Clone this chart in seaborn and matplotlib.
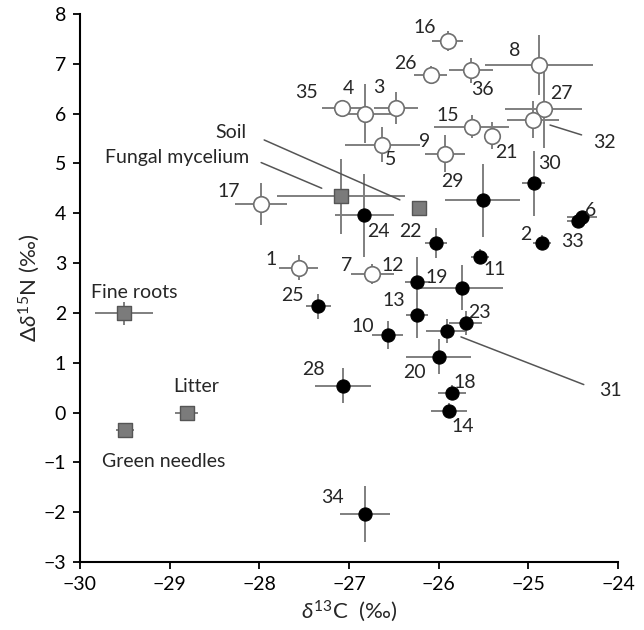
import numpy as np
import pandas as pd
import matplotlib
matplotlib.use("Agg")
import matplotlib.pyplot as plt
import seaborn as sns

# ---------------- data ----------------
open_ids = ["1", "3", "4", "5", "7", "8", "9", "15", "16", "17", "21", "26", "27", "32", "35", "36"]
open_x = [-27.56, -26.48, -26.82, -26.63, -26.74, -24.88, -25.93, -25.63, -25.90, -27.98, -25.40, -26.09, -24.83, -24.95, -27.08, -25.64]
open_y = [2.91, 6.12, 6.00, 5.38, 2.79, 6.97, 5.20, 5.74, 7.46, 4.19, 5.56, 6.77, 6.10, 5.88, 6.12, 6.87]
open_xerr = [0.22, 0.245, 0.33, 0.42, 0.24, 0.60, 0.22, 0.42, 0.17, 0.29, 0.08, 0.18, 0.43, 0.29, 0.22, 0.25]
open_yerr = [0.25, 0.32, 0.59, 0.35, 0.20, 0.60, 0.37, 0.23, 0.20, 0.42, 0.27, 0.18, 0.78, 0.37, 0.08, 0.25]

filled_ids = ["2", "6", "10", "11", "12", "13", "14", "18", "19", "20", "22", "23", "24", "25", "28", "29", "30", "31", "33", "34"]
filled_x = [-24.85, -24.40, -26.57, -25.54, -26.24, -26.24, -25.88, -25.85, -25.74, -26.00, -26.03, -25.70, -26.83, -27.34, -27.07, -25.51, -24.94, -25.91, -24.45, -26.82]
filled_y = [3.41, 3.92, 1.55, 3.13, 2.63, 1.95, 0.04, 0.40, 2.51, 1.12, 3.41, 1.79, 3.96, 2.13, 0.54, 4.26, 4.60, 1.63, 3.84, -2.03]
filled_xerr = [0.10, 0.17, 0.17, 0.10, 0.14, 0.12, 0.20, 0.16, 0.46, 0.36, 0.12, 0.18, 0.33, 0.14, 0.31, 0.42, 0.13, 0.23, 0.12, 0.28]
filled_yerr = [0.15, 0.08, 0.28, 0.15, 0.50, 0.45, 0.15, 0.15, 0.46, 0.35, 0.30, 0.24, 0.83, 0.25, 0.35, 0.73, 0.65, 0.24, 0.08, 0.56]

material_names = ["Fungal mycelium", "Soil", "Fine roots", "Litter", "Green needles"]
material_x = [-27.09, -26.22, -29.51, -28.81, -29.50]
material_y = [4.34, 4.10, 1.99, 0.00, -0.34]
material_xerr = [0.71, 0.08, 0.32, 0.13, 0.10]
material_yerr = [0.75, 0.08, 0.23, 0.06, 0.10]

x_ticks = [-30, -29, -28, -27, -26, -25, -24]
y_ticks = [-3, -2, -1, 0, 1, 2, 3, 4, 5, 6, 7, 8]

# label offsets (pixels) relative to each point
label_off = {
    "1": (-28, 8), "3": (-17, 20), "4": (-17, 25), "5": (8, -15), "7": (-26, 8),
    "8": (-24, 15), "9": (-20, 12), "15": (-24, 11), "16": (-23, 13), "17": (-32, 12),
    "21": (14, -17), "26": (-25, 12), "27": (18, 15), "35": (-35, 15), "36": (12, -19),
    "2": (-16, 8), "6": (9, 7), "33": (-5, -20), "10": (-25, 9), "11": (15, -13),
    "12": (-24, 16), "13": (-23, 15), "14": (13, -16), "18": (13, 10), "19": (-25, 10),
    "20": (-24, -16), "22": (-26, 11), "23": (14, 11), "24": (14, -16), "25": (-26, 11),
    "28": (-29, 16), "29": (-30, 19), "30": (16, 20), "34": (-33, 16),
}
leader_off = {"31": (152, -59, (0, 0.5), 9, 11), "32": (60, -23, (0, 0.75), 6, 13)}
material_off = {
    "Fine roots": ((10, 21), "center", None),
    "Litter": ((9, 26), "center", None),
    "Green needles": ((39, -32), "center", None),
    "Soil": ((-172, 76), "right", (11, 15)),
    "Fungal mycelium": ((-92, 39), "right", (7, 15)),
}

# ---------------- style ----------------
sns.set_style("ticks")
plt.rcParams["font.family"] = ["Lato", "DejaVu Sans"]
plt.rcParams["mathtext.fontset"] = "custom"
plt.rcParams["mathtext.rm"] = "Lato"
plt.rcParams["mathtext.it"] = "Lato:italic"
plt.rcParams["axes.unicode_minus"] = True

FS = 14
ECOL = "#7f7f7f"

fig = plt.figure(figsize=(6.44, 6.30), dpi=100)
ax = fig.add_axes([0.1242, 0.1079, 0.8354, 0.8698])

df_open = pd.DataFrame({"id": open_ids, "x": open_x, "y": open_y, "xerr": open_xerr, "yerr": open_yerr})
df_fill = pd.DataFrame({"id": filled_ids, "x": filled_x, "y": filled_y, "xerr": filled_xerr, "yerr": filled_yerr})
df_mat = pd.DataFrame({"name": material_names, "x": material_x, "y": material_y, "xerr": material_xerr, "yerr": material_yerr})

for d in (df_open, df_fill, df_mat):
    ax.errorbar(d["x"], d["y"], xerr=d["xerr"], yerr=d["yerr"], fmt="none",
                ecolor=ECOL, elinewidth=1.4, capsize=0, zorder=1)

sns.scatterplot(data=df_mat, x="x", y="y", ax=ax, marker="s", s=115,
                color="#7b7b7b", edgecolor="#555555", linewidth=1.0, zorder=3)
sns.scatterplot(data=df_open, x="x", y="y", ax=ax, marker="o", s=125,
                color="white", edgecolor="#6f6f6f", linewidth=1.2, zorder=3)
sns.scatterplot(data=df_fill, x="x", y="y", ax=ax, marker="o", s=90,
                color="black", edgecolor="black", linewidth=0.8, zorder=4)

# point labels
for d in (df_open, df_fill):
    for _, r in d.iterrows():
        pid = r["id"]
        if pid in label_off:
            dx, dy = label_off[pid]
            ax.annotate(pid, (r["x"], r["y"]), xytext=(dx, dy), textcoords="offset pixels",
                        ha="center", va="center", fontsize=FS, zorder=5)
        elif pid in leader_off:
            dx, dy, rp, sa, sb = leader_off[pid]
            ax.annotate(pid, (r["x"], r["y"]), xytext=(dx, dy), textcoords="offset pixels",
                        ha="left", va="center", fontsize=FS, zorder=5,
                        arrowprops=dict(arrowstyle="-", color="#555555", lw=1.1,
                                        relpos=rp, shrinkA=sa, shrinkB=sb))

for _, r in df_mat.iterrows():
    (dx, dy), ha, shr = material_off[r["name"]]
    if shr is None:
        ax.annotate(r["name"], (r["x"], r["y"]), xytext=(dx, dy), textcoords="offset pixels",
                    ha=ha, va="center", fontsize=FS, zorder=5)
    else:
        ax.annotate(r["name"], (r["x"], r["y"]), xytext=(dx, dy), textcoords="offset pixels",
                    ha=ha, va="center", fontsize=FS, zorder=5,
                    arrowprops=dict(arrowstyle="-", color="#555555", lw=1.1,
                                    relpos=(1, 0.5), shrinkA=shr[0], shrinkB=shr[1]))

ax.set_xlim(-30, -24)
ax.set_ylim(-3, 8)
ax.set_xticks(x_ticks)
ax.set_yticks(y_ticks)
ax.set_xticklabels([f"\u2212{abs(v)}" if v < 0 else str(v) for v in x_ticks], fontsize=FS)
ax.set_yticklabels([f"\u2212{abs(v)}" if v < 0 else str(v) for v in y_ticks], fontsize=FS)
ax.tick_params(direction="out", length=5, width=1.3, colors="black", pad=5)
for s in ("left", "bottom"):
    ax.spines[s].set_linewidth(1.5)
    ax.spines[s].set_color("black")
sns.despine(ax=ax)

ax.set_xlabel(r"$\mathit{\delta}^{13}$C  (‰)", fontsize=FS + 2, labelpad=4)
ax.set_ylabel(r"$\Delta\mathit{\delta}^{15}$N (‰)", fontsize=FS + 2, labelpad=1)

fig.savefig("out.png", dpi=100)
